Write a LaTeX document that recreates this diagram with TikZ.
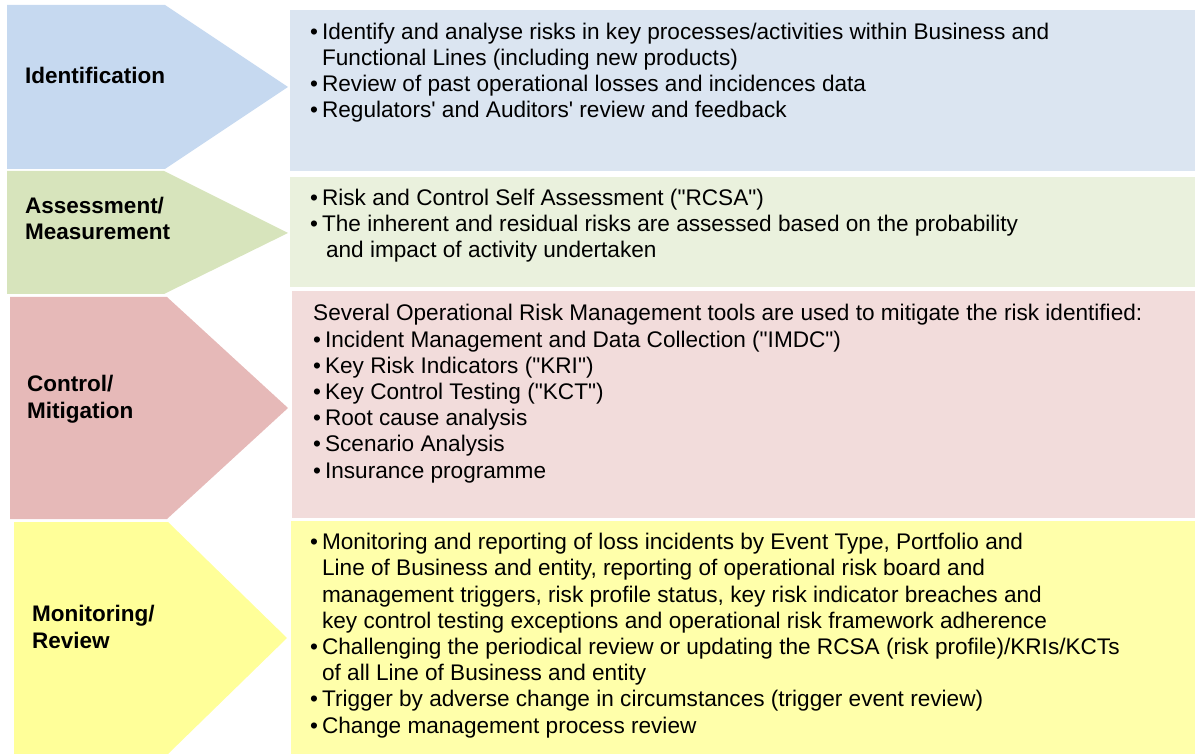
\documentclass[tikz,border=0pt]{standalone}
\usepackage{fontspec}
\setmainfont{Liberation Sans}[Ligatures=TeXOff]
\usetikzlibrary{positioning}
\definecolor{idarrow}{HTML}{C6D9F0}
\definecolor{idbox}{HTML}{DBE5F1}
\definecolor{asarrow}{HTML}{D7E4BC}
\definecolor{asbox}{HTML}{EAF1DD}
\definecolor{ctarrow}{HTML}{E6B9B8}
\definecolor{ctbox}{HTML}{F2DCDB}
\definecolor{moarrow}{HTML}{FFFF99}
\definecolor{mobox}{HTML}{FFFFAA}
\tikzset{
	stage/.style={font=\fontsize{22.5}{26.5}\selectfont\bfseries, align=left, anchor=base west, inner sep=0pt},
	detail/.style={font=\fontsize{22.6}{26.2}\selectfont, align=left, anchor=base west, inner sep=0pt},
}
\newcommand{\bul}{\textbullet\hspace{4pt}}
\newcommand{\ind}{\phantom{\textbullet\hspace{4pt}}}

\begin{document}
\begin{tikzpicture}[x=1pt, y=-1pt]
		%%%%% START %%%%%
		\useasboundingbox (0, 0) rectangle (1195, 754);
		
		% arrows on the left
		\draw[draw=none, fill=idarrow] (7, 5) -- (165, 5) -- (288, 87) -- (165, 169) -- (7, 169) -- cycle;
		\draw[draw=none, fill=asarrow] (7, 171) -- (164, 171) -- (288, 233) -- (164, 294) -- (7, 294) -- cycle;
		\draw[draw=none, fill=ctarrow] (10, 297) -- (167, 297) -- (288, 408) -- (167, 519) -- (10, 519) -- cycle;
		\draw[draw=none, fill=moarrow] (14, 522) -- (168, 522) -- (287, 638) -- (168, 754) -- (14, 754) -- cycle;
		
		% boxes on the right
		\fill[idbox] (290, 10) rectangle (1195, 171);
		\fill[asbox] (290, 177) rectangle (1195, 287);
		\fill[ctbox] (292, 291) rectangle (1195, 518);
		\fill[mobox] (291, 521) rectangle (1195, 754);
		
		% base anchor = baseline of the last line
		\node[stage] (ident) at (25, 84) {Identification};
		\node[stage] (assess) at (25, 240) {Assessment/\\Measurement};
		\node[stage] (control) at (27, 418) {Control/\\Mitigation};
		\node[stage] (monitor) at (32, 648) {Monitoring/\\Review};
		
		\node[detail] (identtext) at (310, 118) {\bul Identify and analyse risks in key processes/activities within Business and\\
			\ind Functional Lines (including new products)\\
			\bul Review of past operational losses and incidences data\\
			\bul Regulators' and Auditors' review and feedback};
		
		\node[detail] (assesstext) at (310, 257.5) {\bul Risk and Control Self Assessment ("RCSA")\\
			\bul The inherent and residual risks are assessed based on the probability\\
			\ind\hspace{4pt}and impact of activity undertaken};
		
		\node[detail] (controltext) at (313, 478) {Several Operational Risk Management tools are used to mitigate the risk identified:\\
			\bul Incident Management and Data Collection ("IMDC")\\
			\bul Key Risk Indicators ("KRI")\\
			\bul Key Control Testing ("KCT")\\
			\bul Root cause analysis\\
			\bul Scenario Analysis\\
			\bul Insurance programme};
		
		\node[detail] (monitortext) at (310, 733) {\bul Monitoring and reporting of loss incidents by Event Type, Portfolio and\\
			\ind Line of Business and entity, reporting of operational risk board and\\
			\ind management triggers, risk profile status, key risk indicator breaches and\\
			\ind key control testing exceptions and operational risk framework adherence\\
			\bul Challenging the periodical review or updating the RCSA (risk profile)/KRIs/KCTs\\
			\ind of all Line of Business and entity\\
			\bul Trigger by adverse change in circumstances (trigger event review)\\
			\bul Change management process review};
		%%%%% END %%%%%
	\end{tikzpicture}
\end{document}
